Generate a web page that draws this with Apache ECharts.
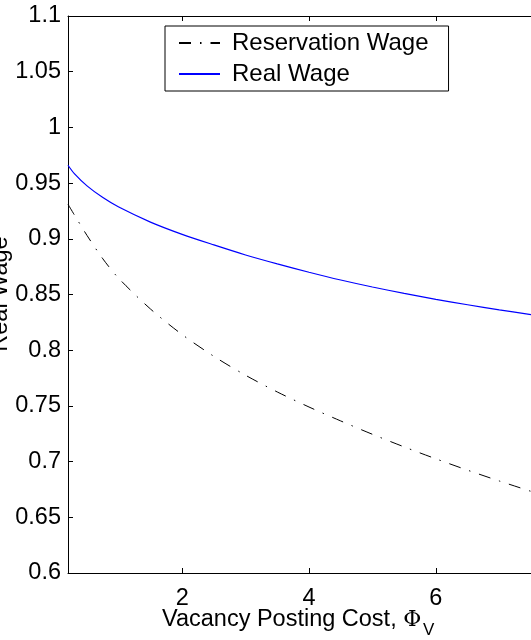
<!DOCTYPE html>
<html>
<head>
<meta charset="utf-8">
<script src="https://cdn.jsdelivr.net/npm/echarts@6/dist/echarts.min.js"></script>
<style>
  html, body { margin: 0; padding: 0; background: #fff; }
  #chart { width: 531px; height: 640px; }
</style>
</head>
<body>
<div id="chart"></div>
<script>
// 横轴取值（空缺发布成本）
const costValues = [0.2, 0.3, 0.5, 0.75, 1, 1.5, 2, 2.5, 3, 3.5, 4, 4.5, 5, 5.5, 6, 6.5, 7, 7.5];
// 保留工资
const reservationWage = [0.931, 0.9215, 0.903, 0.882, 0.8645, 0.837, 0.814, 0.7945, 0.7775, 0.7625, 0.749, 0.7365, 0.7245, 0.7132, 0.7025, 0.6923, 0.6826, 0.6733];
// 实际工资
const realWage = [0.966, 0.9585, 0.9475, 0.937, 0.9285, 0.915, 0.904, 0.8945, 0.8855, 0.8775, 0.870, 0.863, 0.8567, 0.851, 0.8457, 0.8408, 0.8362, 0.832];
// 刻度
const xTicks = [2, 4, 6];
const seriesNames = ['Reservation Wage', 'Real Wage'];

const FONT = '"Liberation Sans", Arial, Helvetica, sans-serif';
const FONT_SIZE = 23.5;

function zip(xs, ys) {
    return xs.map((x, i) => [x, ys[i]]);
}

const chart = echarts.init(document.getElementById('chart'));

const baseAxisLine = { show: true, onZero: false, lineStyle: { color: '#000', width: 1 } };

chart.setOption({
    animation: false,
    backgroundColor: '#fff',
    grid: { left: 68, top: 16, right: -3, bottom: 67 },
    legend: {
        orient: 'vertical',
        left: 165,
        top: 26,
        padding: [5, 20, 5, 13],
        borderColor: '#000',
        borderWidth: 1,
        backgroundColor: '#fff',
        itemWidth: 41,
        itemHeight: 14,
        itemGap: 7,
        itemStyle: { color: 'rgba(0,0,0,0)', borderWidth: 0 },
        textStyle: { fontFamily: FONT, fontSize: 24, color: '#000', lineHeight: 22, padding: [0, 0, 0, 7] },
        data: seriesNames
    },
    xAxis: [{
        type: 'value',
        min: 0.2,
        max: 7.5,
        position: 'bottom',
        axisLine: baseAxisLine,
        axisTick: { show: true, inside: true, length: 5, customValues: xTicks, lineStyle: { color: '#000' } },
        axisLabel: { customValues: xTicks, margin: 14, fontFamily: FONT, fontSize: FONT_SIZE, color: '#000' },
        splitLine: { show: false }
    }, {
        type: 'value',
        min: 0.2,
        max: 7.5,
        position: 'top',
        axisLine: baseAxisLine,
        axisTick: { show: true, inside: true, length: 5, customValues: xTicks, lineStyle: { color: '#000' } },
        axisLabel: { show: false },
        splitLine: { show: false }
    }],
    yAxis: [{
        type: 'value',
        min: 0.6,
        max: 1.1,
        interval: 0.05,
        position: 'left',
        axisLine: baseAxisLine,
        axisTick: { show: true, inside: true, length: 5, lineStyle: { color: '#000' } },
        axisLabel: {
            margin: 7,
            fontFamily: FONT,
            fontSize: FONT_SIZE,
            color: '#000',
            formatter: v => String(parseFloat(v.toFixed(2)))
        },
        splitLine: { show: false }
    }],
    series: [{
        name: seriesNames[0],
        type: 'line',
        data: zip(costValues, reservationWage),
        smooth: 0.3,
        symbol: 'none',
        lineStyle: { color: '#000', width: 1, type: [12, 9, 1.5, 9] },
        itemStyle: { color: '#000' }
    }, {
        name: seriesNames[1],
        type: 'line',
        data: zip(costValues, realWage),
        smooth: 0.3,
        symbol: 'none',
        lineStyle: { color: '#0000ff', width: 1.2 },
        itemStyle: { color: '#0000ff' }
    }],
    graphic: [{
        type: 'text',
        left: 162,
        top: 608,
        style: {
            text: 'Vacancy Posting Cost, {phi|Φ}',
            fontFamily: FONT,
            fontSize: FONT_SIZE,
            fill: '#000',
            rich: { phi: { fontFamily: '"DejaVu Serif", serif', fontSize: 22, fill: '#000' } }
        }
    }, {
        type: 'text',
        left: 423,
        top: 622,
        style: { text: 'V', fontFamily: FONT, fontSize: 17, fill: '#000' }
    }, {
        type: 'text',
        x: 1,
        y: 294,
        rotation: Math.PI / 2,
        style: {
            text: 'Real Wage',
            fontFamily: FONT,
            fontSize: FONT_SIZE,
            fill: '#000',
            align: 'center',
            verticalAlign: 'middle'
        }
    }]
});
</script>
</body>
</html>
